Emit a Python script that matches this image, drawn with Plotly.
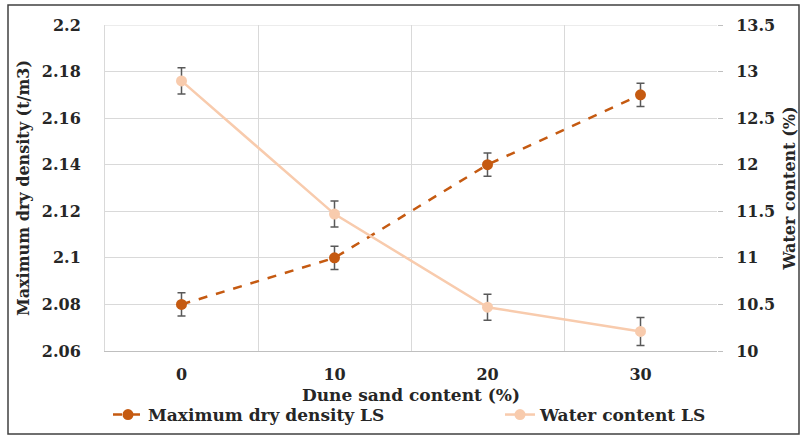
import plotly.graph_objects as go

# Dune sand content categories (%)
sand_content = ["0", "10", "20", "30"]

# Maximum dry density (t/m3) with error margins
dry_density = [2.08, 2.10, 2.14, 2.17]
dry_density_err = [0.005, 0.005, 0.005, 0.005]

# Optimum water content (%) with error margins
water_content = [12.9, 11.47, 10.47, 10.21]
water_content_err = [0.14, 0.14, 0.14, 0.15]

FONT = "DejaVu Serif"
INK = "#262626"
W, H = 801, 436
ML, MR, MT, MB = 105, 84, 25, 85

fig = go.Figure()

fig.add_trace(go.Scatter(
    x=sand_content, y=dry_density,
    name="<b>Maximum dry density LS</b>",
    mode="lines+markers",
    line=dict(color="#C55A11", width=2.5, dash="dash"),
    marker=dict(symbol="circle", size=11, color="#C55A11"),
    error_y=dict(type="data", array=dry_density_err, visible=True,
                 color="#595959", thickness=1.5, width=4),
    yaxis="y", legend="legend",
))

fig.add_trace(go.Scatter(
    x=sand_content, y=water_content,
    name="<b>Water content LS</b>",
    mode="lines+markers",
    line=dict(color="#F8CBAD", width=2.5),
    marker=dict(symbol="circle", size=11, color="#F8CBAD"),
    error_y=dict(type="data", array=water_content_err, visible=True,
                 color="#595959", thickness=1.5, width=4),
    yaxis="y2", legend="legend2",
))

pw = W - ML - MR
ph = H - MT - MB

legend_style = dict(orientation="h", xanchor="left", yanchor="middle",
                    y=(351 - 415) / ph,
                    font=dict(family=FONT, size=17, color=INK),
                    bgcolor="rgba(0,0,0,0)")

fig.update_layout(
    width=W, height=H,
    margin=dict(l=ML, r=MR, t=MT, b=MB, autoexpand=False),
    paper_bgcolor="white", plot_bgcolor="white",
    font=dict(family=FONT, size=16, color=INK),
    showlegend=True,
    legend=dict(x=(108 - ML) / pw, **legend_style),
    legend2=dict(x=(500 - ML) / pw, **legend_style),
    xaxis=dict(
        type="category", range=[-0.5, 3.5], tickson="boundaries",
        automargin=False,
        showgrid=True, gridcolor="#D9D9D9", gridwidth=1,
        showline=True, linecolor="#BFBFBF", linewidth=1,
        ticks="", tickfont=dict(family=FONT, size=16, color=INK),
        ticklabelstandoff=9,
        tickprefix="<b>", ticksuffix="</b>",
    ),
    yaxis=dict(
        range=[2.06, 2.2], dtick=0.02, tickformat="~r", automargin=False,
        showgrid=True, gridcolor="#D9D9D9", gridwidth=1,
        showline=True, linecolor="#D9D9D9", linewidth=1,
        zeroline=False, ticks="",
        tickfont=dict(family=FONT, size=16, color=INK),
        tickprefix="<b>", ticksuffix="</b>", ticklabelstandoff=20,
        title=dict(text="<b>Maximum dry density (t/m3)</b>", standoff=8,
                   font=dict(family=FONT, size=16, color=INK)),
    ),
    yaxis2=dict(
        range=[10, 13.5], dtick=0.5, overlaying="y", side="right",
        automargin=False,
        showgrid=False, zeroline=False, showline=False,
        ticks="outside", ticklen=5, tickcolor="#BFBFBF",
        tickfont=dict(family=FONT, size=16, color=INK),
        tickprefix="<b>", ticksuffix="</b>", ticklabelstandoff=10,
        title=dict(text="<b>Water content (%)</b>", standoff=9,
                   font=dict(family=FONT, size=16, color=INK)),
    ),
)

# x-axis title, placed just under the tick labels
fig.add_annotation(text="<b>Dune sand content (%)</b>", xref="paper", yref="paper",
                   x=0.5, y=(351 - 395) / ph, xanchor="center", yanchor="middle",
                   showarrow=False, font=dict(family=FONT, size=17, color=INK))

# Top gridline at the upper end of the density axis
fig.add_shape(type="line", xref="paper", yref="y", x0=0, x1=1, y0=2.2, y1=2.2,
              line=dict(color="#D9D9D9", width=1), layer="below")

# Outer frame of the figure
fig.add_shape(type="rect", xref="paper", yref="paper",
              x0=(8 - ML) / pw, x1=(799 - ML) / pw,
              y0=(H - MB - 434) / ph, y1=(H - MB - 5) / ph,
              line=dict(color="#404040", width=1.5), layer="below")

fig.write_html("out.html")
